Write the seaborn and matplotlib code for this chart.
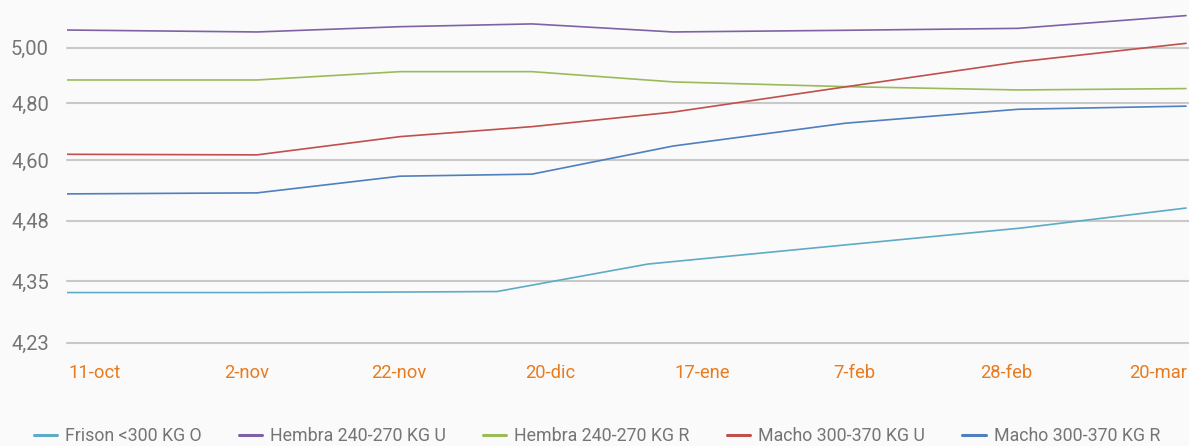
import numpy as np
import pandas as pd
import matplotlib
matplotlib.use("Agg")
import matplotlib.pyplot as plt
import seaborn as sns
from matplotlib.lines import Line2D

# ---------------- data ----------------
fechas = ["11-oct", "2-nov", "22-nov", "20-dic", "17-ene", "7-feb", "28-feb", "20-mar"]
series = ["Frison <300 KG O", "Hembra 240-270 KG U", "Hembra 240-270 KG R",
          "Macho 300-370 KG U", "Macho 300-370 KG R"]

# sampling positions along the date axis (in units of date-label slots)
pos_comun = [-0.181, 1.069, 2.010, 2.878, 3.806, 4.938, 6.076, 7.181]
pos_frison = [-0.181, 1.069, 2.010, 2.648, 3.641, 4.938, 6.089, 7.181]

frison = [4.328, 4.328, 4.329, 4.330, 4.387, 4.428, 4.464, 4.505]
hembra_u = [5.063, 5.056, 5.075, 5.085, 5.056, 5.062, 5.069, 5.115]
hembra_r = [4.883, 4.883, 4.913, 4.913, 4.876, 4.859, 4.847, 4.852]
macho_u = [4.620, 4.618, 4.682, 4.717, 4.768, 4.858, 4.948, 5.015]
macho_r = [4.533, 4.535, 4.568, 4.572, 4.649, 4.729, 4.778, 4.789]

y_ticks = [4.23, 4.35, 4.48, 4.60, 4.80, 5.00]
y_tick_labels = ["4,23", "4,35", "4,48", "4,60", "4,80", "5,00"]

colores = ["#5eabc6", "#7f62a6", "#9bbb59", "#c0504d", "#4f7fbd"]

# ---------------- style ----------------
sns.set_style("white")
plt.rcParams["font.family"] = ["Roboto", "DejaVu Sans"]
BG = "#fafafa"

df = pd.concat([
    pd.DataFrame({"pos": pos_frison, "precio": frison, "serie": series[0]}),
    pd.DataFrame({"pos": pos_comun, "precio": hembra_u, "serie": series[1]}),
    pd.DataFrame({"pos": pos_comun, "precio": hembra_r, "serie": series[2]}),
    pd.DataFrame({"pos": pos_comun, "precio": macho_u, "serie": series[3]}),
    pd.DataFrame({"pos": pos_comun, "precio": macho_r, "serie": series[4]}),
], ignore_index=True)

fig = plt.figure(figsize=(11.89, 4.46), dpi=100, facecolor=BG)
ax = fig.add_axes([67 / 1189, (446 - 342.7) / 446, (1189 - 67) / 1189, 342.7 / 446])
ax.set_facecolor(BG)

# non-uniform value axis (gridlines are not proportional to the labels)
gaps = [61.4, 60.6, 60.7, 57.0, 55.5]
tick_p = np.concatenate([[0.0], np.cumsum(gaps)])
lo_slope = gaps[0] / (y_ticks[1] - y_ticks[0])
hi_slope = gaps[-1] / (y_ticks[-1] - y_ticks[-2])
v_anchor = np.array([3.0] + y_ticks + [7.0])
p_anchor = np.concatenate([[-(y_ticks[0] - 3.0) * lo_slope], tick_p,
                           [tick_p[-1] + (7.0 - y_ticks[-1]) * hi_slope]])

def fwd(v):
    return np.interp(v, v_anchor, p_anchor)

def inv(p):
    return np.interp(p, p_anchor, v_anchor)

ax.set_yscale("function", functions=(fwd, inv))

sns.lineplot(data=df, x="pos", y="precio", hue="serie", palette=colores,
             hue_order=series, sort=False, estimator=None, linewidth=1.2,
             legend=False, ax=ax)

ax.set_ylim(4.23, y_ticks[-1] + 47.5 / hi_slope)
ax.set_xlim(pos_comun[0], (1189 - 94.5) / 152)

ax.set_yticks(y_ticks)
ax.set_yticklabels(y_tick_labels)
ax.set_xticks(range(len(fechas)))
ax.set_xticklabels(fechas)
ax.minorticks_off()

ax.tick_params(axis="y", length=0, pad=13, labelsize=14.5, labelcolor="#757575")
ax.tick_params(axis="x", length=0, pad=15, labelsize=13.2, labelcolor="#e87b1e")
ax.set_xlabel("")
ax.set_ylabel("")

ax.yaxis.grid(True, color="#c9c9c9", linewidth=1.5)
ax.xaxis.grid(False)
for gl in ax.get_ygridlines():
    gl.set_clip_on(False)
ax.set_axisbelow(True)
for s in ax.spines.values():
    s.set_visible(False)

handles = [Line2D([0], [0], color=c, lw=2.2) for c in colores]
leg = fig.legend(handles, series, loc="center", bbox_to_anchor=(0.502, 0.022),
                 ncol=5, frameon=False, fontsize=12.8, handlelength=1.3,
                 handletextpad=0.45, columnspacing=2.1)
for t in leg.get_texts():
    t.set_color("#757575")

fig.savefig("out.png", dpi=100, facecolor=BG)
